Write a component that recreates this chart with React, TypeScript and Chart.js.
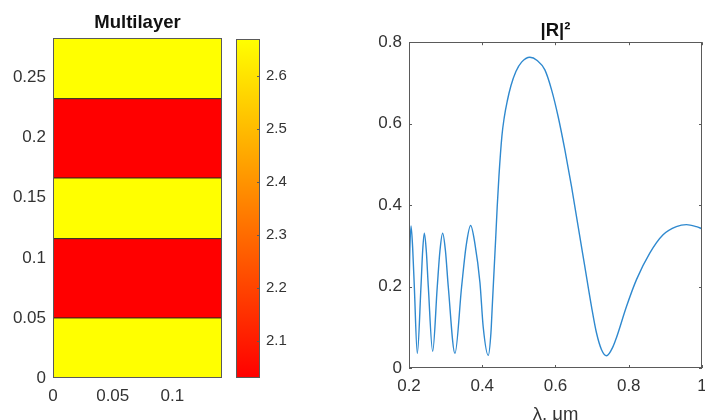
import React, { useEffect, useRef } from 'react';
import { Chart, registerables } from 'chart.js';

Chart.register(...registerables);

// ---- Multilayer stack (bottom to top) ----
const layerIndex = [2.67, 2.03, 2.67, 2.03, 2.67];
const layerThickness = [0.05, 0.066, 0.0505, 0.066, 0.0505];
const stackWidth = 0.1415;
const stackXTicks = [0, 0.05, 0.1];
const stackYTicks = [0, 0.05, 0.1, 0.15, 0.2, 0.25];
const colorbarTicks = [2.1, 2.2, 2.3, 2.4, 2.5, 2.6];

// ---- |R|^2 spectrum ----
const wavelength = [
  0.2, 0.2019, 0.2055, 0.21, 0.2145, 0.2227, 0.2327, 0.2373, 0.2418, 0.2472,
  0.2527, 0.2646, 0.2772, 0.2845, 0.2919, 0.2995, 0.3072, 0.3255, 0.3437, 0.356,
  0.3683, 0.38, 0.3937, 0.4027, 0.4164, 0.4237, 0.4273, 0.4319, 0.4365, 0.4409,
  0.4455, 0.4537, 0.46, 0.4682, 0.4783, 0.4919, 0.5074, 0.53, 0.55, 0.571,
  0.5893, 0.6073, 0.6255, 0.6437, 0.6619, 0.6801, 0.6983, 0.712, 0.7257, 0.7393,
  0.7573, 0.7666, 0.7938, 0.8211, 0.8574, 0.8937, 0.93, 0.9575, 0.9848, 1.0,
];
const reflectance = [
  0.176, 0.274, 0.349, 0.295, 0.2, 0.036, 0.2, 0.288, 0.331, 0.288,
  0.2, 0.041, 0.2, 0.288, 0.331, 0.288, 0.2, 0.036, 0.2, 0.3,
  0.35, 0.305, 0.21, 0.1, 0.031, 0.086, 0.151, 0.233, 0.315, 0.397,
  0.47, 0.57, 0.615, 0.655, 0.693, 0.728, 0.751, 0.763, 0.755, 0.732,
  0.683, 0.617, 0.536, 0.446, 0.347, 0.249, 0.151, 0.086, 0.045, 0.03,
  0.053, 0.075, 0.151, 0.217, 0.282, 0.327, 0.347, 0.352, 0.347, 0.342,
];
const rXTicks = [0.2, 0.4, 0.6, 0.8, 1];
const rYTicks = [0, 0.2, 0.4, 0.6, 0.8];

const FONT = "'Liberation Sans', Arial, Helvetica, sans-serif";
const TEXT = '#333333';
const AXIS = '#5a5a5a';

const nMin = Math.min(...layerIndex);
const nMax = Math.max(...layerIndex);
const autumn = (f: number) => `rgb(255, ${Math.round(255 * f)}, 0)`;
const frac = (n: number) => (n - nMin) / (nMax - nMin);

const boundaries: number[] = [0];
layerThickness.forEach((t) => boundaries.push(boundaries[boundaries.length - 1] + t));
const stackTop = boundaries[boundaries.length - 1];

const fmt = (v: any) => String(+Number(v).toFixed(4));
const setTicks = (vals: number[]) => (s: any) => {
  s.ticks = vals.map((v) => ({ value: v }));
};

const framePlugin = {
  id: 'frame',
  afterDatasetsDraw(chart: any, _args: any, opts: any) {
    const { ctx, chartArea: a } = chart;
    const L = opts.tickLength || 0;
    ctx.save();
    ctx.strokeStyle = opts.color || AXIS;
    ctx.lineWidth = 1;
    ctx.beginPath();
    if (L > 0) {
      const xs = opts.xScale ? chart.scales[opts.xScale] : null;
      if (xs) {
        xs.ticks.forEach((_t: any, i: number) => {
          const p = Math.round(xs.getPixelForTick(i)) + 0.5;
          ctx.moveTo(p, a.bottom);
          ctx.lineTo(p, a.bottom - L);
          ctx.moveTo(p, a.top);
          ctx.lineTo(p, a.top + L);
        });
      }
      const ys = opts.yScale ? chart.scales[opts.yScale] : null;
      if (ys) {
        const sides: string[] = opts.ySides || ['left', 'right'];
        ys.ticks.forEach((_t: any, i: number) => {
          const p = Math.round(ys.getPixelForTick(i)) + 0.5;
          if (sides.includes('left')) {
            ctx.moveTo(a.left, p);
            ctx.lineTo(a.left + L, p);
          }
          if (sides.includes('right')) {
            ctx.moveTo(a.right, p);
            ctx.lineTo(a.right - L, p);
          }
        });
      }
    }
    ctx.stroke();
    ctx.strokeRect(
      Math.round(a.left) + 0.5,
      Math.round(a.top) + 0.5,
      Math.round(a.right) - Math.round(a.left) - 1,
      Math.round(a.bottom) - Math.round(a.top) - 1,
    );
    ctx.restore();
  },
};

function ChartCanvas({ config, left, width }: { config: any; left: number; width: number }) {
  const ref = useRef<HTMLCanvasElement | null>(null);
  useEffect(() => {
    if (!ref.current) return;
    const chart = new Chart(ref.current, config);
    return () => chart.destroy();
  }, [config]);
  return (
    <canvas
      ref={ref}
      width={width}
      height={420}
      style={{ position: 'absolute', left, top: 0, width, height: 420 }}
    />
  );
}

const tickFont = { family: FONT, size: 17 };
const titleFont = { family: FONT, size: 18.5, weight: 'bold' as const };

const stackConfig = {
  type: 'line',
  data: {
    datasets: boundaries.map((b, i) => ({
      label: 'b' + i,
      data: [
        { x: 0, y: b },
        { x: stackWidth, y: b },
      ],
      borderColor: '#222222',
      borderWidth: i === 0 || i === boundaries.length - 1 ? 0 : 1,
      pointRadius: 0,
      fill: i === 0 ? false : '-1',
      backgroundColor: i === 0 ? 'rgba(0,0,0,0)' : autumn(frac(layerIndex[i - 1])),
      tension: 0,
    })),
  },
  options: {
    animation: false,
    responsive: false,
    events: [],
    layout: { padding: { left: 0, right: 8, top: 0, bottom: 0 } },
    plugins: {
      legend: { display: false },
      tooltip: { enabled: false },
      filler: { drawTime: 'beforeDatasetsDraw' },
      title: {
        display: true,
        text: 'Multilayer',
        fullSize: false,
        color: '#111111',
        font: titleFont,
        padding: { top: 12, bottom: 3.8 },
      },
      frame: { tickLength: 0, color: AXIS },
    },
    scales: {
      x: {
        type: 'linear',
        min: 0,
        max: stackWidth,
        grid: { display: false, drawTicks: false },
        border: { display: false },
        ticks: { font: tickFont, color: TEXT, padding: 8, callback: fmt, maxRotation: 0, autoSkip: false },
        afterBuildTicks: setTicks(stackXTicks),
        afterFit: (s: any) => {
          s.height = 42;
          s.paddingLeft = 0;
          s.paddingRight = 0;
        },
      },
      y: {
        type: 'linear',
        min: 0,
        max: stackTop,
        grid: { display: false, drawTicks: false },
        border: { display: false },
        ticks: { font: tickFont, color: TEXT, padding: 7, callback: fmt, autoSkip: false },
        afterBuildTicks: setTicks(stackYTicks),
        afterFit: (s: any) => {
          s.width = 53;
          s.paddingTop = 0;
          s.paddingBottom = 0;
        },
      },
    },
  },
  plugins: [framePlugin],
};

const colorbarConfig = {
  type: 'bar',
  data: {
    labels: ['n'],
    datasets: [
      {
        label: 'n',
        data: [[nMin, nMax]],
        borderWidth: 0,
        barPercentage: 1,
        categoryPercentage: 1,
        backgroundColor: (c: any) => {
          const chart = c.chart;
          const ys = chart.scales && chart.scales.y;
          if (!chart.chartArea || !ys) return autumn(0.5);
          const g = chart.ctx.createLinearGradient(0, ys.getPixelForValue(nMin), 0, ys.getPixelForValue(nMax));
          g.addColorStop(0, autumn(0));
          g.addColorStop(1, autumn(1));
          return g;
        },
      },
    ],
  },
  options: {
    animation: false,
    responsive: false,
    events: [],
    layout: { padding: { left: 6, right: 0, top: 39, bottom: 42 } },
    plugins: {
      legend: { display: false },
      tooltip: { enabled: false },
      frame: { tickLength: 3, yScale: 'y', ySides: ['right'], color: AXIS },
    },
    scales: {
      x: { display: false },
      y: {
        type: 'linear',
        position: 'right',
        min: nMin,
        max: nMax,
        grid: { display: false, drawTicks: false },
        border: { display: false },
        ticks: { font: { family: FONT, size: 15 }, color: TEXT, padding: 6, callback: fmt, autoSkip: false },
        afterBuildTicks: setTicks(colorbarTicks),
        afterFit: (s: any) => {
          s.width = 70;
          s.paddingTop = 0;
          s.paddingBottom = 0;
        },
      },
    },
  },
  plugins: [framePlugin],
};

const spectrumConfig = {
  type: 'line',
  data: {
    datasets: [
      {
        label: '|R|²',
        data: wavelength.map((x, i) => ({ x, y: reflectance[i] })),
        borderColor: '#2f89cf',
        borderWidth: 1.4,
        pointRadius: 0,
        fill: false,
        cubicInterpolationMode: 'monotone',
      },
    ],
  },
  options: {
    animation: false,
    responsive: false,
    events: [],
    layout: { padding: { left: 0, right: 3, top: 0, bottom: 0 } },
    plugins: {
      legend: { display: false },
      tooltip: { enabled: false },
      title: {
        display: true,
        text: '|R|²',
        fullSize: false,
        color: '#111111',
        font: titleFont,
        padding: { top: 20, bottom: 0 },
      },
      frame: { tickLength: 3, xScale: 'x', yScale: 'y', color: AXIS },
    },
    scales: {
      x: {
        type: 'linear',
        min: 0.2,
        max: 1,
        grid: { display: false, drawTicks: false },
        border: { display: false },
        ticks: { font: tickFont, color: TEXT, padding: 8, callback: fmt, maxRotation: 0, autoSkip: false },
        afterBuildTicks: setTicks(rXTicks),
        title: {
          display: true,
          text: 'λ, μm',
          color: TEXT,
          font: { family: FONT, size: 18.5, lineHeight: 0.55 },
          padding: { top: 0, bottom: 0 },
        },
        afterFit: (s: any) => {
          s.height = 52;
          s.paddingLeft = 0;
          s.paddingRight = 0;
        },
      },
      y: {
        type: 'linear',
        min: 0,
        max: 0.8,
        grid: { display: false, drawTicks: false },
        border: { display: false },
        ticks: { font: tickFont, color: TEXT, padding: 7, callback: fmt, autoSkip: false },
        afterBuildTicks: setTicks(rYTicks),
        afterFit: (s: any) => {
          s.width = 79;
          s.paddingTop = 0;
          s.paddingBottom = 0;
        },
      },
    },
  },
  plugins: [framePlugin],
};

export default function App() {
  return (
    <div
      style={{
        position: 'absolute',
        left: 0,
        top: 0,
        width: 705,
        height: 420,
        overflow: 'hidden',
        background: '#ffffff',
      }}
    >
      <ChartCanvas config={stackConfig} left={0} width={230} />
      <ChartCanvas config={colorbarConfig} left={230} width={100} />
      <ChartCanvas config={spectrumConfig} left={330} width={375} />
    </div>
  );
}
